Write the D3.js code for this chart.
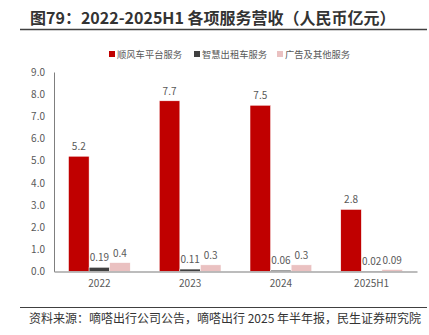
<!DOCTYPE html>
<html><head><meta charset="utf-8">
<script src="https://cdn.jsdelivr.net/npm/d3@7"></script>
<style>body{margin:0;background:#fff}svg{display:block}text{font-family:"Noto Sans CJK SC","Noto Sans",sans-serif}</style>
</head><body>
<script>
const categories = ["2022","2023","2024","2025H1"];
const seriesNames = ["顺风车平台服务","智慧出租车服务","广告及其他服务"];
const rideShare = [5.2, 7.7, 7.5, 2.8];
const smartTaxi = [0.19, 0.11, 0.06, 0.02];
const adsOther = [0.4, 0.3, 0.3, 0.09];
const yTicks = [0,1,2,3,4,5,6,7,8,9];
const colors = ["#C00000","#404040","#EAC1C1"];
const series = [rideShare, smartTaxi, adsOther];

const W=429,H=335;
const svg=d3.select("body").append("svg").attr("width",W).attr("height",H);
// title
svg.append("text").attr("x",30).attr("y",24).attr("font-size",16).attr("font-weight","bold").attr("fill","#333")
  .text("图79：2022-2025H1 各项服务营收（人民币亿元）");
svg.append("line").attr("x1",20).attr("x2",427).attr("y1",29.5).attr("y2",29.5).attr("stroke","#404040").attr("stroke-width",1.5);
// legend
const legX=[109,194,277];
seriesNames.forEach((n,i)=>{
  svg.append("rect").attr("x",legX[i]).attr("y",51).attr("width",6).attr("height",6).attr("fill",colors[i]);
  svg.append("text").attr("x",legX[i]+8).attr("y",57.5).attr("font-size",9.3).attr("fill","#595959").text(n);
});
const x0=d3.scaleBand().domain(categories).range([54,417]).paddingInner(0.32).paddingOuter(0.16);
const x1=d3.scaleBand().domain(d3.range(3)).range([0,x0.bandwidth()]);
const y=d3.scaleLinear().domain([0,9]).range([271.5,72]);
// y axis
const ya=svg.append("g").attr("transform","translate(54,0)").call(d3.axisLeft(y).tickValues(yTicks).tickFormat(d3.format(".1f")).tickSize(0).tickPadding(9));
ya.select(".domain").attr("stroke","#7f7f7f");
ya.selectAll("text").attr("font-size",10).attr("fill","#595959").attr("font-family","Noto Sans,sans-serif");
// bars
series.forEach((vals,si)=>{
  const g=svg.append("g");
  g.selectAll("rect").data(vals).join("rect")
    .attr("x",(d,i)=>x0(categories[i])+x1(si)).attr("width",x1.bandwidth())
    .attr("y",d=>y(d)).attr("height",d=>y(0)-y(d)).attr("fill",colors[si])
    .attr("stroke","#fff").attr("stroke-width",0.5);
  g.selectAll("text").data(vals).join("text")
    .attr("x",(d,i)=>x0(categories[i])+x1(si)+x1.bandwidth()/2)
    .attr("y",d=>y(d)-6).attr("text-anchor","middle").attr("font-size",10).attr("fill","#595959")
    .attr("font-family","Noto Sans,sans-serif").text(d=>String(d));
});
// x axis
const xa=svg.append("g").attr("transform","translate(0,271.5)").call(d3.axisBottom(x0).tickSize(0).tickPadding(8));
xa.select(".domain").attr("stroke","#a6a6a6").attr("stroke-width",1.5);
xa.selectAll("text").attr("font-size",10).attr("fill","#595959").attr("font-family","Noto Sans,sans-serif");
// footer
svg.append("line").attr("x1",20).attr("x2",427).attr("y1",307.5).attr("y2",307.5).attr("stroke","#404040").attr("stroke-width",1.2);
svg.append("text").attr("x",29).attr("y",322.5).attr("font-size",12).attr("fill","#333")
  .text("资料来源：嘀嗒出行公司公告，嘀嗒出行 2025 年半年报，民生证券研究院");
</script>
</body></html>
